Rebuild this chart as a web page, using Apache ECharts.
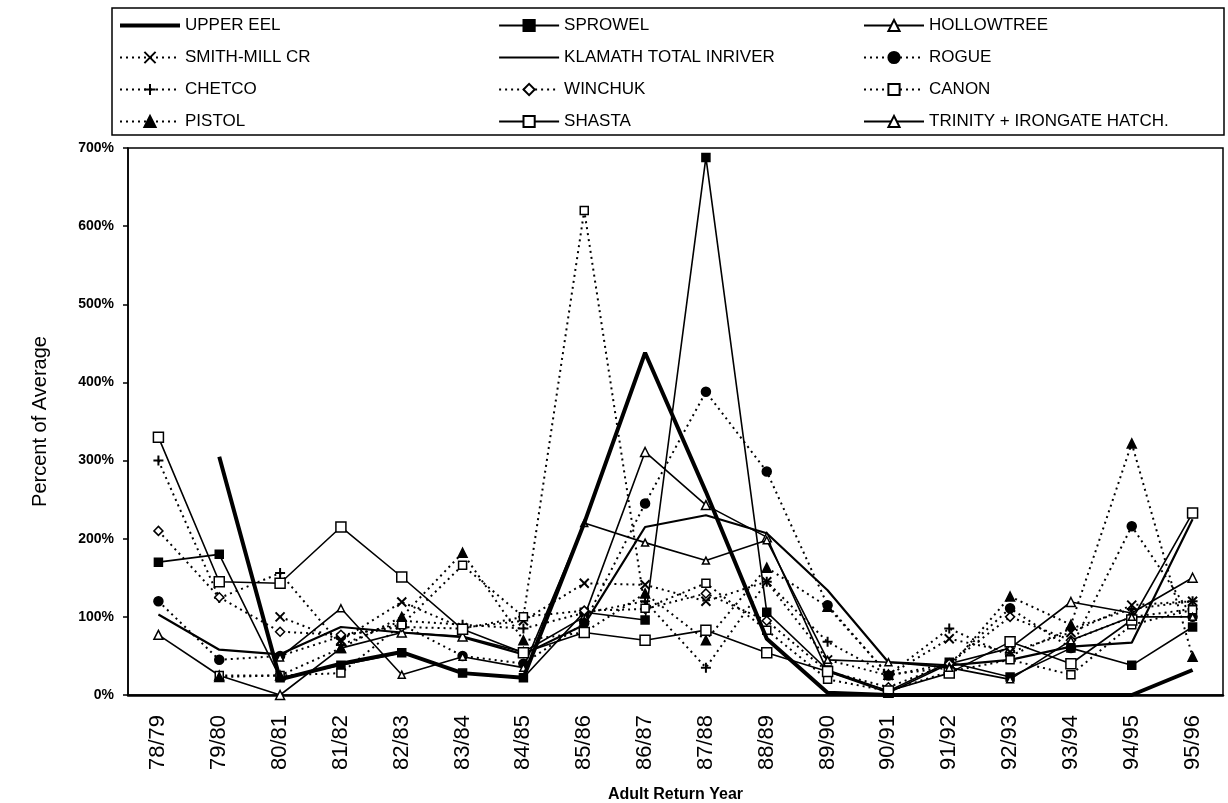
<!DOCTYPE html>
<html><head><meta charset="utf-8">
<script src="https://cdn.jsdelivr.net/npm/echarts@6/dist/echarts.min.js"></script>
<style>html,body{margin:0;padding:0;background:#fff}#c{width:1228px;height:803px}</style>
</head><body><div id="c"></div>
<script>
const categories = ['78/79','79/80','80/81','81/82','82/83','83/84','84/85','85/86','86/87','87/88','88/89','89/90','90/91','91/92','92/93','93/94','94/95','95/96'];
const upperEel   = [null, 305, 20, 40, 55, 28, 22, 220, 438, 260, 72, 3, 0, 0, 0, 0, 0, 32];
const sprowel    = [170, 180, 22, 38, 54, 28, 22, 106, 96, 688, 106, 32, 5, 42, 23, 60, 38, 87];
const hollowtree = [77, 25, 0, 60, 80, 75, 55, 100, 311, 243, 202, 30, 3, 40, 60, 119, 105, 150];
const smithMill  = [null, null, 100, 70, 119, 86, 95, 143, 141, 120, 145, 45, 25, 72, 55, 80, 115, 120];
const klamath    = [103, 58, 52, 87, 80, 74, 52, 90, 215, 230, 207, 134, 42, 38, 45, 62, 67, 225];
const rogue      = [120, 45, 50, 75, 90, 50, 40, 92, 245, 388, 286, 115, 25, 40, 111, 60, 216, 100];
const chetco     = [300, 124, 156, 64, 95, 90, 85, 105, 120, 35, 145, 68, 26, 85, 50, 85, 110, 120];
const winchuk    = [210, 125, 81, 77, 87, 85, 100, 108, 110, 130, 95, 30, 10, 40, 100, 70, 100, 110];
const canon      = [null, 25, 25, 28, 90, 166, 100, 620, 111, 143, 83, 20, 5, 30, 45, 26, 90, 109];
const pistol     = [null, 23, 25, 60, 100, 182, 70, 80, 130, 70, 163, 113, 26, 35, 126, 90, 322, 49];
const shasta     = [330, 145, 143, 215, 151, 84, 54, 80, 70, 83, 54, 30, 5, 28, 68, 40, 96, 233];
const trinity    = [null, null, 48, 111, 26, 49, 35, 220, 195, 172, 198, 45, 42, 35, 20, 70, 100, 100];
const yTickValues = [0, 100, 200, 300, 400, 500, 600, 700];

const FONT = '"Liberation Sans", Arial, Helvetica, sans-serif';
const BLK = '#000';
const CLEAR = 'rgba(0,0,0,0)';
const XPATH = 'path://M0,0L10,10M10,0L0,10';
const PLUS = 'path://M5,0L5,10M0,5L10,5';
const DOT = [2, 4];

function S(name, data, o) {
  const solid = !o.dotted;
  const plain = !o.symbol;
  return {
    name, type: 'line', data,
    symbol: plain ? 'circle' : o.symbol,
    symbolSize: plain ? 1 : (o.size || 8),
    showSymbol: !plain,
    connectNulls: false,
    lineStyle: { color: BLK, width: o.width || (solid ? 1.6 : 2), type: solid ? 'solid' : DOT },
    itemStyle: plain ? { color: CLEAR, borderColor: CLEAR, borderWidth: 0 }
                     : { color: o.open ? '#fff' : BLK, borderColor: BLK, borderWidth: o.bw || 1.5 },
    emphasis: { disabled: true },
    z: o.z || 2
  };
}

const series = [
  S('UPPER EEL', upperEel, { width: 4, z: 5 }),
  S('SPROWEL', sprowel, { symbol: 'rect', size: 8 }),
  S('HOLLOWTREE', hollowtree, { symbol: 'triangle', size: 9, open: true }),
  S('SMITH-MILL CR', smithMill, { dotted: true, symbol: XPATH, size: 9, bw: 2 }),
  S('KLAMATH TOTAL INRIVER', klamath, { width: 2.2 }),
  S('ROGUE', rogue, { dotted: true, symbol: 'circle', size: 9 }),
  S('CHETCO', chetco, { dotted: true, symbol: PLUS, size: 10, bw: 2 }),
  S('WINCHUK', winchuk, { dotted: true, symbol: 'diamond', size: 9, open: true }),
  S('CANON', canon, { dotted: true, symbol: 'rect', size: 8, open: true }),
  S('PISTOL', pistol, { dotted: true, symbol: 'triangle', size: 9 }),
  S('SHASTA', shasta, { symbol: 'rect', size: 10, open: true }),
  S('TRINITY + IRONGATE HATCH.', trinity, { symbol: 'triangle', size: 7, open: true })
];

const legendCommon = {
  orient: 'vertical', top: 17, padding: 0, itemWidth: 60, itemHeight: 14, itemGap: 15,
  textStyle: { fontSize: 17, color: BLK, fontFamily: FONT },
  selectedMode: false
};

const chart = echarts.init(document.getElementById('c'), null, { renderer: 'canvas' });
chart.setOption({
  animation: false,
  backgroundColor: '#fff',
  textStyle: { fontFamily: FONT, color: BLK },
  graphic: [{
    type: 'rect', shape: { x: 112, y: 8, width: 1112, height: 127 },
    style: { fill: 'none', stroke: BLK, lineWidth: 1.5 }, silent: true
  }],
  legend: [
    Object.assign({ left: 118, data: [{ name: 'UPPER EEL', lineStyle: { width: 4 } }, 'SMITH-MILL CR', 'CHETCO', 'PISTOL'] }, legendCommon),
    Object.assign({ left: 498, data: ['SPROWEL', { name: 'KLAMATH TOTAL INRIVER', lineStyle: { width: 2.2 } }, 'WINCHUK', 'SHASTA'] }, legendCommon),
    Object.assign({ left: 863, data: ['HOLLOWTREE', 'ROGUE', 'CANON', 'TRINITY + IRONGATE HATCH.'] }, legendCommon)
  ],
  grid: { left: 128, right: 5, top: 148, bottom: 108, show: true, borderColor: BLK, borderWidth: 1.5, containLabel: false, outerBoundsMode: 'none' },
  xAxis: {
    type: 'category', data: categories, boundaryGap: true,
    name: 'Adult Return Year', nameLocation: 'middle', nameGap: 92,
    nameTextStyle: { fontSize: 16, fontWeight: 'bold', color: BLK, fontFamily: FONT },
    axisLine: { lineStyle: { color: BLK, width: 2.5 } },
    axisTick: { show: false },
    axisLabel: { rotate: 90, fontSize: 22, color: BLK, margin: 20, fontFamily: FONT, interval: 0 }
  },
  yAxis: {
    type: 'value', min: yTickValues[0], max: yTickValues[yTickValues.length - 1], interval: 100,
    name: 'Percent of Average', nameLocation: 'middle', nameGap: 78,
    nameTextStyle: { fontSize: 20, color: BLK, fontFamily: FONT },
    axisLine: { show: true, lineStyle: { color: BLK, width: 1.5 } },
    axisTick: { show: true, inside: false, length: 5, lineStyle: { color: BLK, width: 1.5 } },
    splitLine: { show: false },
    axisLabel: { formatter: '{value}%', fontSize: 14, fontWeight: 'bold', color: BLK, margin: 14, fontFamily: FONT }
  },
  series
});
</script></body></html>
